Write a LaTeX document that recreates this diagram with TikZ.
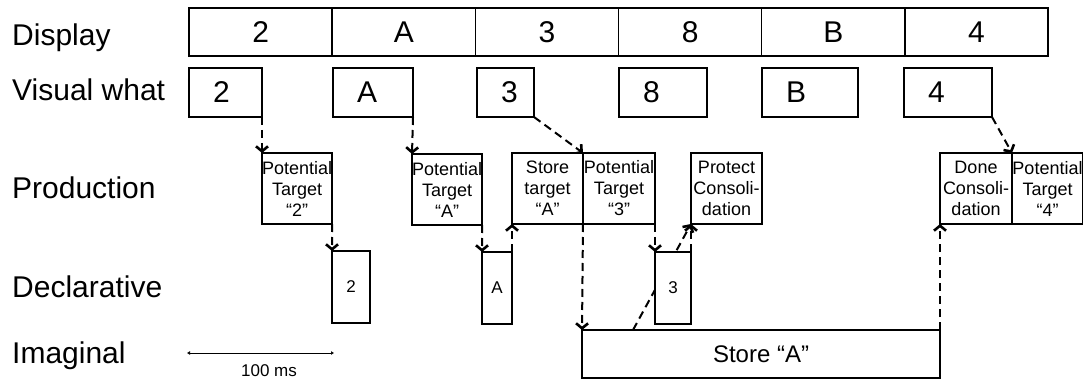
\documentclass[tikz,border=0pt]{standalone}
\usepackage{fontspec}
\setmainfont{Liberation Sans}
\usetikzlibrary{arrows.meta,backgrounds}
\newcommand\fsz[2]{\fontsize{#1}{#2}\selectfont}
\tikzset{
  lbl/.style={anchor=base west, inner sep=0pt, font=\fsz{30}{36}},
  cell/.style={draw, line width=1.4pt, anchor=north west, minimum width=143.2pt, minimum height=48pt, inner sep=0pt, outer sep=0pt, font=\fsz{30}{36}},
  vis/.style={draw, line width=1.4pt, anchor=north west, minimum height=49pt, inner xsep=24pt, inner ysep=0pt, outer sep=0pt, align=left, font=\fsz{30}{36}},
  prod/.style={draw, fill=white, line width=1.4pt, anchor=north west, minimum width=71pt, minimum height=71pt, inner sep=0pt, outer sep=0pt, align=center, font=\fsz{18}{21}},
  decl/.style={draw, fill=white, line width=1.4pt, anchor=north west, minimum height=72pt, inner sep=0pt, outer sep=0pt, font=\fsz{17}{20}},
  arr/.style={line width=2pt, dash pattern=on 8pt off 5pt, -{Straight Barb[length=5pt,width=12pt,line width=2.6pt]}},
}
\begin{document}
\begin{tikzpicture}[x=1pt,y=-1pt]
\useasboundingbox (0,0) rectangle (1083,379);
% row labels
\node[lbl] (ldisp) at (12,46) {Display};
\node[lbl] (lvis) at (12,101) {Visual what};
\node[lbl] (lprod) at (12,199) {Production};
\node[lbl] (ldecl) at (12,297) {Declarative};
\node[lbl] (limag) at (12,363) {Imaginal};
% display cells
\node[cell] (d1) at (189,8) {2};
\node[cell] (d2) at (332.2,8) {A};
\node[cell] (d3) at (475.3,8) {3};
\node[cell] (d4) at (618.5,8) {8};
\node[cell] (d5) at (761.7,8) {B};
\node[cell] (d6) at (904.8,8) {4};
\draw[line width=2.3pt] (d2.north west) -- (d2.south west);
% visual what
\node[vis, text width=25pt] (v2) at (189,68) {2};
\node[vis, text width=32pt] (vA) at (333,68) {A};
\node[vis, text width=9pt] (v3) at (477,68) {3};
\node[vis, text width=40pt] (v8) at (619,68) {8};
\node[vis, text width=48pt] (vB) at (762,68) {B};
\node[vis, text width=40pt] (v4) at (904,68) {4};
% production
\node[prod, minimum width=70pt] (p2) at (262,153) {Potential\\Target\\“2”};
\node[prod, minimum width=70pt] (pA) at (412,154) {Potential\\Target\\“A”};
\node[prod] (st) at (512,153) {Store\\target\\“A”};
\node[prod, minimum width=72pt] (p3) at (583,153) {Potential\\Target\\“3”};
\node[prod] (pc) at (691,153) {Protect\\Consoli-\\dation};
\node[prod, minimum width=72pt] (dc) at (940,153) {Done\\Consoli-\\dation};
\node[prod] (p4) at (1012,153) {Potential\\Target\\“4”};
% declarative
\node[decl, minimum width=38pt] (m2) at (332,251) {2};
\node[decl, minimum width=30pt] (mA) at (482,252) {A};
\node[decl, minimum width=36pt] (m3) at (655,252) {3};
% imaginal
\node[draw, line width=1.4pt, anchor=north west, minimum width=358pt, minimum height=48pt, inner sep=0pt, outer sep=0pt, font=\fsz{24}{28}] (im) at (582,330) {Store “A”};
\coordinate (imd) at (633,330);
% connectors
\begin{pgfonlayer}{background}
\draw[arr] (v2.south east) -- (p2.north west);
\draw[arr] (vA.south east) -- (pA.north west);
\draw[arr] (v3.south east) -- (p3.north west);
\draw[arr] (v4.south east) -- (p4.north west);
\draw[arr] (p2.south east) -- (m2.north west);
\draw[arr] (pA.south east) -- (mA.north west);
\draw[arr] (mA.north east) -- (st.south west);
\draw[arr] (p3.south west) -- (im.north west);
\draw[arr] (p3.south east) -- (m3.north west);
\draw[arr] (m3.north east) -- (pc.south west);
\draw[arr] (imd) -- (pc.south west);
\draw[arr] (im.north east) -- (dc.south west);
\end{pgfonlayer}
% scale bar
\coordinate (sb1) at (187,353);
\coordinate (sb2) at (334,353);
\draw[line width=0.9pt, {Latex[length=3pt,width=4pt]}-{Latex[length=3pt,width=4pt]}] (sb1) -- (sb2);
\node[font=\fsz{17}{20}, inner sep=0pt] (sbl) at (269,371) {100 ms};
\end{tikzpicture}
\end{document}
